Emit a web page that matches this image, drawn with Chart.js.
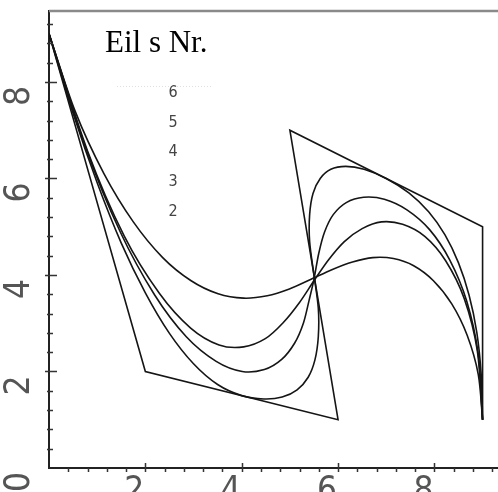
<!DOCTYPE html>
<html>
<head>
<meta charset="utf-8">
<script src="https://cdn.jsdelivr.net/npm/chart.js@4.4.1/dist/chart.umd.min.js"></script>
<style>
  html, body { margin: 0; padding: 0; background: #fff; }
</style>
</head>
<body>
<canvas id="myChart" width="498" height="492"></canvas>
<script>
// control polygon (order 2) and the curves of order 3..6
var polyX = [0, 2, 6, 5, 9, 9];
var polyY = [9, 2, 1, 7, 5, 1];

var ord3X = [0, 0.5, 1, 1.5, 2, 2.5, 3, 3.5, 4, 4.46, 4.84, 5.15, 5.38, 5.52, 5.59, 5.59, 5.5, 5.41, 5.41, 5.48, 5.63, 5.85, 6.16, 6.54, 7, 7.47, 7.88, 8.22, 8.5, 8.72, 8.88, 8.97, 9];
var ord3Y = [9, 7.35, 5.91, 4.66, 3.63, 2.79, 2.16, 1.73, 1.5, 1.43, 1.47, 1.62, 1.88, 2.24, 2.72, 3.31, 4, 4.69, 5.25, 5.69, 6, 6.19, 6.25, 6.19, 6, 5.70, 5.31, 4.83, 4.25, 3.58, 2.81, 1.95, 1];

var ord4X = [0, 0.75, 1.48, 2.19, 2.85, 3.47, 4.01, 4.47, 4.83, 5.10, 5.28, 5.40, 5.50, 5.60, 5.72, 5.90, 6.17, 6.53, 6.96, 7.43, 7.90, 8.32, 8.67, 8.91, 9];
var ord4Y = [9, 6.67, 4.89, 3.59, 2.72, 2.21, 2.00, 2.04, 2.25, 2.59, 3.00, 3.48, 3.91, 4.45, 4.89, 5.25, 5.50, 5.61, 5.57, 5.35, 4.94, 4.31, 3.46, 2.36, 1];

var ord5X = [0, 0.80, 1.56, 2.29, 2.94, 3.53, 4.04, 4.49, 4.86, 5.20, 5.50, 5.80, 6.13, 6.50, 6.90, 7.34, 7.80, 8.23, 8.62, 8.89, 9];
var ord5Y = [9, 6.57, 4.81, 3.62, 2.90, 2.55, 2.51, 2.68, 3.01, 3.43, 3.88, 4.31, 4.69, 4.96, 5.10, 5.05, 4.80, 4.30, 3.51, 2.43, 1];

var ord6X = [0, 0.54, 1.14, 1.75, 2.36, 2.95, 3.51, 4.04, 4.53, 4.99, 5.44, 5.87, 6.30, 6.72, 7.15, 7.57, 7.98, 8.36, 8.68, 8.91, 9];
var ord6Y = [9, 7.40, 6.10, 5.10, 4.36, 3.88, 3.61, 3.52, 3.57, 3.71, 3.91, 4.11, 4.27, 4.36, 4.34, 4.19, 3.88, 3.40, 2.75, 1.94, 1];

var seriesNames = ['6', '5', '4', '3', '2'];
var legendTitle = 'Eil s Nr.';

// axis ticks: every 0.4, labelled every 2
var xTickValues = [0, 0.4, 0.8, 1.2, 1.6, 2, 2.4, 2.8, 3.2, 3.6, 4, 4.4, 4.8, 5.2, 5.6, 6, 6.4, 6.8, 7.2, 7.6, 8, 8.4, 8.8, 9.2];
var yTickValues = [0, 0.4, 0.8, 1.2, 1.6, 2, 2.4, 2.8, 3.2, 3.6, 4, 4.4, 4.8, 5.2, 5.6, 6, 6.4, 6.8, 7.2, 7.6, 8, 8.4, 8.8, 9.2];
var xTickLabels = ['2', '4', '6', '8'];
var yTickLabels = ['0', '2', '4', '6', '8'];

var tickFont = "'Liberation Sans Narrow', 'DejaVu Sans Condensed', 'Liberation Sans', sans-serif";

function toPoints(xs, ys) {
    var pts = [];
    for (var i = 0; i < xs.length; i++) {
        pts.push({ x: xs[i], y: ys[i] });
    }
    return pts;
}

function isMajor(v) {
    return Math.abs(v / 2 - Math.round(v / 2)) < 1e-9;
}

function curve(label, xs, ys, tension) {
    return {
        label: label,
        data: toPoints(xs, ys),
        showLine: true,
        borderColor: '#151515',
        borderWidth: 1.6,
        pointRadius: 0,
        tension: tension
    };
}

// extra tick marks (long ones for every 2, short ones between) and the top frame line
var axisMarks = {
    id: 'axisMarks',
    afterDraw: function (chart) {
        var ctx = chart.ctx;
        var area = chart.chartArea;
        var xs = chart.scales.x, ys = chart.scales.y;
        ctx.save();
        ctx.strokeStyle = '#8a8a8a';
        ctx.lineWidth = 2.5;
        ctx.beginPath();
        ctx.moveTo(area.left, area.top);
        ctx.lineTo(area.right, area.top);
        ctx.stroke();

        ctx.strokeStyle = '#333';
        ctx.lineWidth = 1.5;
        ctx.beginPath();
        xs.ticks.forEach(function (t) {
            if (t.value === 0) return;
            var px = Math.round(xs.getPixelForValue(t.value)) + 0.5;
            if (isMajor(t.value)) {
                ctx.moveTo(px, area.bottom - 5);
                ctx.lineTo(px, area.bottom + 4);
            } else {
                ctx.moveTo(px, area.bottom);
                ctx.lineTo(px, area.bottom + 4);
            }
        });
        ys.ticks.forEach(function (t) {
            if (t.value === 0) return;
            var py = Math.round(ys.getPixelForValue(t.value)) + 0.5;
            if (isMajor(t.value)) {
                ctx.moveTo(area.left - 4, py);
                ctx.lineTo(area.left + 8, py);
            } else {
                ctx.moveTo(area.left - 2, py);
                ctx.lineTo(area.left + 4, py);
            }
        });
        ctx.stroke();
        ctx.restore();
    }
};

// legend text inside the plot
var legendNotes = {
    id: 'legendNotes',
    afterDraw: function (chart) {
        var ctx = chart.ctx;
        ctx.save();
        ctx.fillStyle = '#000';
        ctx.font = "31px 'Liberation Serif', serif";
        ctx.textAlign = 'left';
        ctx.textBaseline = 'alphabetic';
        ctx.fillText(legendTitle, 105, 52);

        ctx.strokeStyle = 'rgba(0,0,0,0.12)';
        ctx.lineWidth = 1;
        ctx.setLineDash([1, 2]);
        ctx.beginPath();
        ctx.moveTo(117, 86.5);
        ctx.lineTo(213, 86.5);
        ctx.stroke();
        ctx.setLineDash([]);

        ctx.fillStyle = '#444';
        ctx.font = '16px ' + tickFont;
        ctx.textAlign = 'center';
        ctx.textBaseline = 'middle';
        chart.data.datasets.forEach(function (ds, i) {
            ctx.fillText(ds.label, 173, 93 + i * 29.6);
        });
        ctx.restore();
    }
};

new Chart(document.getElementById('myChart'), {
    type: 'scatter',
    data: {
        datasets: [
            curve(seriesNames[0], ord6X, ord6Y, 0.3),
            curve(seriesNames[1], ord5X, ord5Y, 0.3),
            curve(seriesNames[2], ord4X, ord4Y, 0.3),
            curve(seriesNames[3], ord3X, ord3Y, 0.3),
            curve(seriesNames[4], polyX, polyY, 0)
        ]
    },
    options: {
        responsive: false,
        animation: false,
        layout: { padding: { top: 11, left: 0, right: 0, bottom: 0 } },
        plugins: {
            legend: { display: false },
            tooltip: { enabled: false }
        },
        scales: {
            x: {
                type: 'linear',
                position: 'bottom',
                min: 0,
                max: 9.32,
                afterBuildTicks: function (axis) {
                    axis.ticks = xTickValues.map(function (v) { return { value: v }; });
                },
                afterFit: function (axis) {
                    axis.height = 24;
                    axis.paddingLeft = 0;
                    axis.paddingRight = 0;
                },
                grid: { display: false, drawTicks: false },
                border: { display: true, color: '#222', width: 2 },
                ticks: {
                    autoSkip: false,
                    minRotation: 0,
                    maxRotation: 0,
                    align: 'end',
                    padding: 5,
                    labelOffset: -1,
                    color: '#555',
                    font: { family: tickFont, size: 35, lineHeight: 1.1 },
                    callback: function (v) {
                        return xTickLabels.indexOf(String(v)) >= 0 ? String(v) : '';
                    }
                }
            },
            y: {
                type: 'linear',
                position: 'left',
                min: 0,
                max: 9.47,
                afterBuildTicks: function (axis) {
                    axis.ticks = yTickValues.map(function (v) { return { value: v }; });
                },
                afterFit: function (axis) {
                    axis.width = 49;
                    axis.paddingTop = 0;
                    axis.paddingBottom = 0;
                },
                grid: { display: false, drawTicks: false },
                border: { display: true, color: '#222', width: 2 },
                ticks: {
                    autoSkip: false,
                    minRotation: 90,
                    maxRotation: 90,
                    padding: 29,
                    labelOffset: 4,
                    color: '#555',
                    font: { family: tickFont, size: 35, lineHeight: 1.1 },
                    callback: function (v) {
                        return yTickLabels.indexOf(String(v)) >= 0 ? String(v) : '';
                    }
                }
            }
        }
    },
    plugins: [axisMarks, legendNotes]
});
</script>
</body>
</html>
